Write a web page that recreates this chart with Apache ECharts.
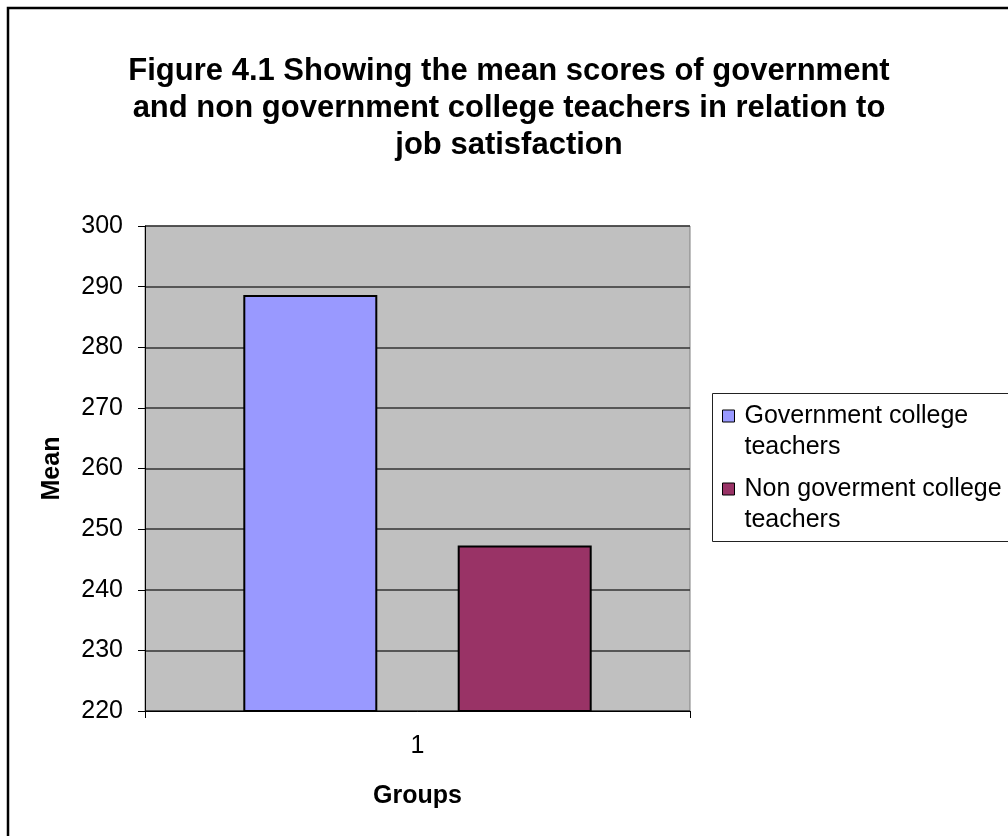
<!DOCTYPE html>
<html>
<head>
<meta charset="utf-8">
<script src="https://cdn.jsdelivr.net/npm/echarts@6/dist/echarts.min.js"></script>
<style>
html,body{margin:0;padding:0;background:#fff;}
#chart{width:1008px;height:836px;}
</style>
</head>
<body>
<div id="chart"></div>
<script>
const titleText = "Figure 4.1 Showing the mean scores of government\nand non government college teachers in relation to\njob satisfaction";
const categories = ["1"];
const seriesNames = ["Government college teachers", "Non goverment college teachers"];
const legendLabels = ["Government college\nteachers", "Non goverment college\nteachers"];
const governmentValues = [288.6];
const nonGovernmentValues = [247.3];
const yMin = 220, yMax = 300, yStep = 10;

const chart = echarts.init(document.getElementById('chart'));
const FONT = '"Liberation Sans", Arial, sans-serif';
chart.setOption({
  animation: false,
  backgroundColor: '#fff',
  graphic: [
    {
      type: 'rect', z: -1, silent: true,
      shape: { x: 8, y: 8, width: 1030, height: 860 },
      style: { fill: 'none', stroke: '#000', lineWidth: 2.5 }
    },
    {
      type: 'rect', z: 1, silent: true,
      shape: { x: 712.5, y: 393.5, width: 320, height: 148 },
      style: { fill: '#fff', stroke: '#222', lineWidth: 1 }
    }
  ],
  title: {
    text: titleText,
    left: 504, top: 48,
    textAlign: 'center',
    textStyle: { fontFamily: FONT, fontWeight: 'bold', fontSize: 31, lineHeight: 37, color: '#000' }
  },
  legend: {
    orient: 'vertical',
    left: 722, top: 369.5,
    padding: 0,
    itemGap: -20,
    itemWidth: 12, itemHeight: 12,
    icon: 'rect',
    z: 5,
    formatter: function (n) {
      return '\n' + legendLabels[seriesNames.indexOf(n)];
    },
    textStyle: { fontFamily: FONT, fontSize: 25, lineHeight: 31, color: '#000', padding: [0, 0, 0, 5] },
    itemStyle: { borderColor: '#000', borderWidth: 1 }
  },
  grid: {
    left: 145, right: 318, top: 226, bottom: 125,
    show: true, backgroundColor: '#C0C0C0', borderColor: '#808080', borderWidth: 1
  },
  xAxis: {
    type: 'category',
    data: categories,
    name: 'Groups',
    nameLocation: 'middle',
    nameGap: 73,
    nameTextStyle: { fontFamily: FONT, fontWeight: 'bold', fontSize: 25, color: '#000' },
    axisLine: { lineStyle: { color: '#000', width: 1 } },
    axisTick: { show: true, length: 7, lineStyle: { color: '#000' } },
    axisLabel: { fontFamily: FONT, fontSize: 25, color: '#000', margin: 23 },
    splitLine: { show: false }
  },
  yAxis: {
    type: 'value',
    min: yMin, max: yMax, interval: yStep,
    name: 'Mean',
    nameLocation: 'middle',
    nameRotate: 90,
    nameGap: 80,
    nameTextStyle: { fontFamily: FONT, fontWeight: 'bold', fontSize: 25, color: '#000' },
    axisLine: { show: true, lineStyle: { color: '#000', width: 1 } },
    axisTick: { show: true, length: 7, lineStyle: { color: '#000' } },
    axisLabel: { fontFamily: FONT, fontSize: 25, color: '#000', margin: 22 },
    splitLine: { show: true, lineStyle: { color: '#333', width: 1.5 } }
  },
  series: [
    {
      name: seriesNames[0], type: 'bar', data: governmentValues,
      barWidth: 134, barGap: '60%',
      itemStyle: { color: '#9999FF', borderColor: '#000', borderWidth: 2 }
    },
    {
      name: seriesNames[1], type: 'bar', data: nonGovernmentValues,
      barWidth: 134,
      itemStyle: { color: '#993366', borderColor: '#000', borderWidth: 2 }
    }
  ]
});
</script>
</body>
</html>
